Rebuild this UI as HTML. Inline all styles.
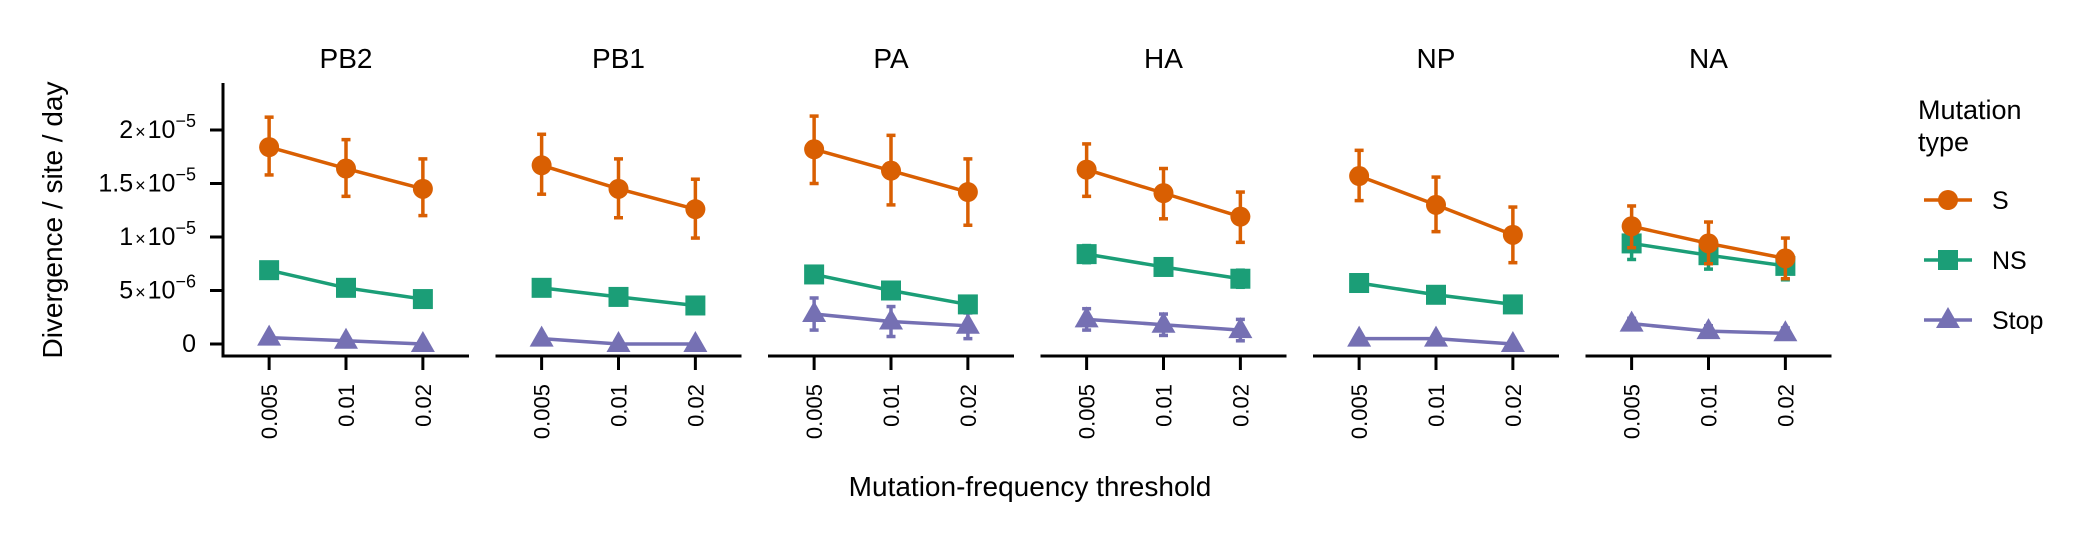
<!DOCTYPE html>
<html><head><meta charset="utf-8"><style>
html,body{margin:0;padding:0;background:#fff;}
svg{display:block;font-family:"Liberation Sans",Arial,sans-serif;}
</style></head><body>
<svg id="chart" width="2100" height="540" viewBox="0 0 2100 540">
<g id="plot"></g>
<text x="62" y="220" transform="rotate(-90 62 220)" text-anchor="middle" font-size="28">Divergence / site / day</text>
<text x="1030" y="496" text-anchor="middle" font-size="28">Mutation-frequency threshold</text>
<g>
<text x="1918" y="119" font-size="27">Mutation</text>
<text x="1918" y="151" font-size="27">type</text>
<g id="legend-keys"></g>
</g>
</svg>
<script>
const genes = ["PB2","PB1","PA","HA","NP","NA"];
const thresholds = ["0.005","0.01","0.02"];
const types = ["S","NS","Stop"];
// values in units of 1e-6
const sMean = [[18.4,16.4,14.5],[16.7,14.5,12.6],[18.2,16.2,14.2],[16.3,14.1,11.9],[15.7,13.0,10.2],[11.0,9.4,8.0]];
const sLo   = [[15.8,13.8,12.0],[14.0,11.8,9.9],[15.0,13.0,11.1],[13.8,11.7,9.5],[13.4,10.5,7.6],[9.0,7.5,6.1]];
const sHi   = [[21.2,19.1,17.3],[19.6,17.3,15.4],[21.3,19.5,17.3],[18.7,16.4,14.2],[18.1,15.6,12.8],[12.9,11.4,9.9]];
const nsMean = [[6.9,5.25,4.2],[5.25,4.4,3.6],[6.5,5.0,3.7],[8.4,7.2,6.1],[5.7,4.6,3.7],[9.4,8.3,7.3]];
const nsErr  = [[0.6,0.5,0.5],[0.5,0.5,0.5],[0.5,0.4,0.5],[0.8,0.7,0.8],[0.7,0.7,0.7],[1.5,1.3,1.3]];
const stopMean = [[0.6,0.3,0.0],[0.5,0.0,0.0],[2.8,2.1,1.7],[2.3,1.8,1.3],[0.5,0.5,0.0],[1.9,1.2,1.0]];
const stopErr  = [[0.3,0.3,0.2],[0.3,0.2,0.2],[1.5,1.4,1.2],[1.0,1.0,1.0],[0.3,0.3,0.2],[0.5,0.5,0.5]];
const yTicks = [0,5,10,15,20];
const yTickMant = ["0","5","1","1.5","2"];
const yTickExp = ["","−6","−5","−5","−5"];

const colors = {S:"#D95F02",NS:"#1B9E77",Stop:"#7570B3"};
const NS="http://www.w3.org/2000/svg";
const plot=document.getElementById('plot');
const P0=223, PITCH=272.5, PW=246;
const yS=v=>344 - v*10.7;
const xS=(p,i)=>P0+p*PITCH + PW*(0.6+i)/3.2;
function mk(tag,attrs,parent){const e=document.createElementNS(NS,tag);for(const k in attrs)e.setAttribute(k,attrs[k]);(parent||plot).appendChild(e);return e;}
function marker(type,x,y,g){
  const c=colors[type];
  if(type==="S") return mk('circle',{cx:x,cy:y,r:10,fill:c},g);
  if(type==="NS") return mk('rect',{x:x-10,y:y-10,width:20,height:20,fill:c},g);
  return mk('polygon',{points:`${x},${y-13} ${x+12},${y+8} ${x-12},${y+8}`,fill:c},g);
}
function errbar(x,lo,hi,c,g){
  mk('line',{x1:x,x2:x,y1:yS(lo),y2:yS(hi),stroke:c,'stroke-width':3.5},g);
  mk('line',{x1:x-4.5,x2:x+4.5,y1:yS(lo),y2:yS(lo),stroke:c,'stroke-width':3.5},g);
  mk('line',{x1:x-4.5,x2:x+4.5,y1:yS(hi),y2:yS(hi),stroke:c,'stroke-width':3.5},g);
}
// y axis
const yax=mk('g',{});


mk('line',{x1:P0,x2:P0,y1:83,y2:357.5,stroke:'#000','stroke-width':3},yax);
yTicks.forEach((v,i)=>{
  mk('line',{x1:P0-13,x2:P0,y1:yS(v),y2:yS(v),stroke:'#000','stroke-width':3},yax);
  const t=mk('text',{x:196,y:yS(v)+8,'text-anchor':'end','font-size':25},yax);
  
  
  if(yTickExp[i]){
    t.appendChild(document.createTextNode(yTickMant[i]));
    const a=document.createElementNS(NS,'tspan');a.setAttribute('font-size','18');a.setAttribute('dx','2');a.textContent='×';t.appendChild(a);
    const b=document.createElementNS(NS,'tspan');b.setAttribute('dx','2');b.textContent='10';t.appendChild(b);
    const s=document.createElementNS(NS,'tspan');s.setAttribute('font-size','18');s.setAttribute('dy','-11');s.textContent=yTickExp[i];t.appendChild(s);
  } else t.textContent=yTickMant[i];
});
genes.forEach((gname,p)=>{
  const g=mk('g',{});
  
  
  const tt=mk('text',{x:P0+p*PITCH+PW/2,y:68,'text-anchor':'middle','font-size':28},g);
  
  
  tt.textContent=gname;
  const ax=P0+p*PITCH;
  mk('line',{x1:ax,x2:ax+PW,y1:356,y2:356,stroke:'#000','stroke-width':3},g);
  thresholds.forEach((th,i)=>{
    const x=xS(p,i);
    mk('line',{x1:x,x2:x,y1:356,y2:370,stroke:'#000','stroke-width':3},g);
    const tl=mk('text',{x:x+8,y:384,'text-anchor':'end','font-size':22,transform:`rotate(-90 ${x+8} 384)`},g);
    
    
    tl.textContent=th;
  });
  const series=[["Stop",stopMean[p],stopMean[p].map((v,i)=>v-stopErr[p][i]),stopMean[p].map((v,i)=>v+stopErr[p][i])],
                ["NS",nsMean[p],nsMean[p].map((v,i)=>v-nsErr[p][i]),nsMean[p].map((v,i)=>v+nsErr[p][i])],
                ["S",sMean[p],sLo[p],sHi[p]]];
  series.forEach(([type,m,lo,hi])=>{
    const sg=mk('g',{},g);
    
    
    const c=colors[type];
    mk('polyline',{points:m.map((v,i)=>xS(p,i)+','+yS(v)).join(' '),fill:'none',stroke:c,'stroke-width':3.5},sg);
    m.forEach((v,i)=>{
      errbar(xS(p,i),lo[i],hi[i],c,sg);
      const mm=marker(type,xS(p,i),yS(v),sg);
      
      
    });
  });
});
const lk=document.getElementById('legend-keys');
const ly=[200,260,320];
types.forEach((type,i)=>{
  const g=mk('g',{},lk);
  
  
  mk('line',{x1:1924,x2:1972,y1:ly[i],y2:ly[i],stroke:colors[type],'stroke-width':3.5},g);
  marker(type,1948,ly[i],g);
  const t=mk('text',{x:1992,y:ly[i]+9,'font-size':25},g);
  t.textContent=type;
});
</script>
</body></html>
